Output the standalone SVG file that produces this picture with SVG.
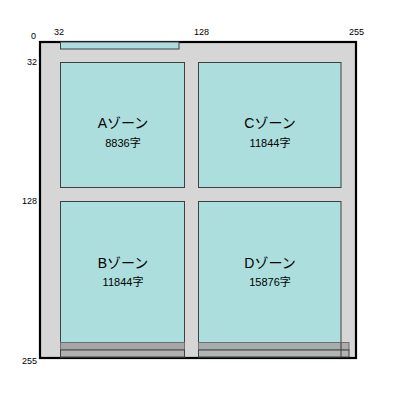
<svg xmlns="http://www.w3.org/2000/svg" width="400" height="400" viewBox="0 0 400 400">
<defs>
<style>
.ax{font-family:"Liberation Sans","Noto Sans CJK JP",sans-serif;font-size:9px;fill:#000}
.zn{font-family:"Liberation Sans","Noto Sans CJK JP",sans-serif;font-size:14px;fill:#000;text-anchor:middle}
.ct{font-family:"Liberation Sans","Noto Sans CJK JP",sans-serif;font-size:11px;fill:#000;text-anchor:middle}
.cell{fill:#acdedd;stroke:#404040;stroke-width:1}
.band1{fill:#a6a6a6;stroke:#707070;stroke-width:1}
.band2{fill:#b0b0b0;stroke:#404040;stroke-width:1}
</style>
</defs>
<rect width="400" height="400" fill="#fff"/>
<g id="frame">
<rect x="40" y="42" width="316" height="316" fill="#d6d6d6" stroke="#000" stroke-width="2.2"/>
</g>
<g id="axes">
<text class="ax" x="31" y="39">0</text>
<text class="ax" x="54" y="35">32</text>
<text class="ax" x="194" y="35">128</text>
<text class="ax" x="349" y="35">255</text>
<text class="ax" x="37" y="65" text-anchor="end">32</text>
<text class="ax" x="37" y="204" text-anchor="end">128</text>
<text class="ax" x="37" y="364" text-anchor="end">255</text>
</g>
<g id="topstrip">
<rect class="cell" x="60.5" y="42" width="118.5" height="7"/>
</g>
<g id="zoneA">
<rect class="cell" x="60.5" y="62.5" width="124" height="125"/>
<text class="zn" x="123" y="128">Aゾーン</text>
<text class="ct" x="123" y="147">8836字</text>
</g>
<g id="zoneC">
<rect class="cell" x="198.5" y="62.5" width="142.5" height="125"/>
<text class="zn" x="270" y="128">Cゾーン</text>
<text class="ct" x="270" y="147">11844字</text>
</g>
<g id="zoneB">
<rect class="cell" x="60.5" y="201.5" width="124" height="155.5"/>
<text class="zn" x="123" y="268">Bゾーン</text>
<text class="ct" x="123" y="286">11844字</text>
<rect class="band1" x="60.5" y="342.5" width="124" height="7.5"/>
<rect class="band2" x="60.5" y="350" width="124" height="7"/>
</g>
<g id="zoneD">
<rect class="cell" x="198.5" y="201.5" width="142.5" height="155.5"/>
<text class="zn" x="270" y="268">Dゾーン</text>
<text class="ct" x="270" y="286">15876字</text>
<rect class="band1" x="198.5" y="342.5" width="150.5" height="7.5" fill-opacity="0.9"/>
<rect class="band2" x="198.5" y="350" width="150.5" height="7" fill-opacity="0.9"/>
<line x1="341" y1="342.5" x2="341" y2="357" stroke="#404040" stroke-width="1"/>
</g>
<g id="connectors"></g>
</svg>
